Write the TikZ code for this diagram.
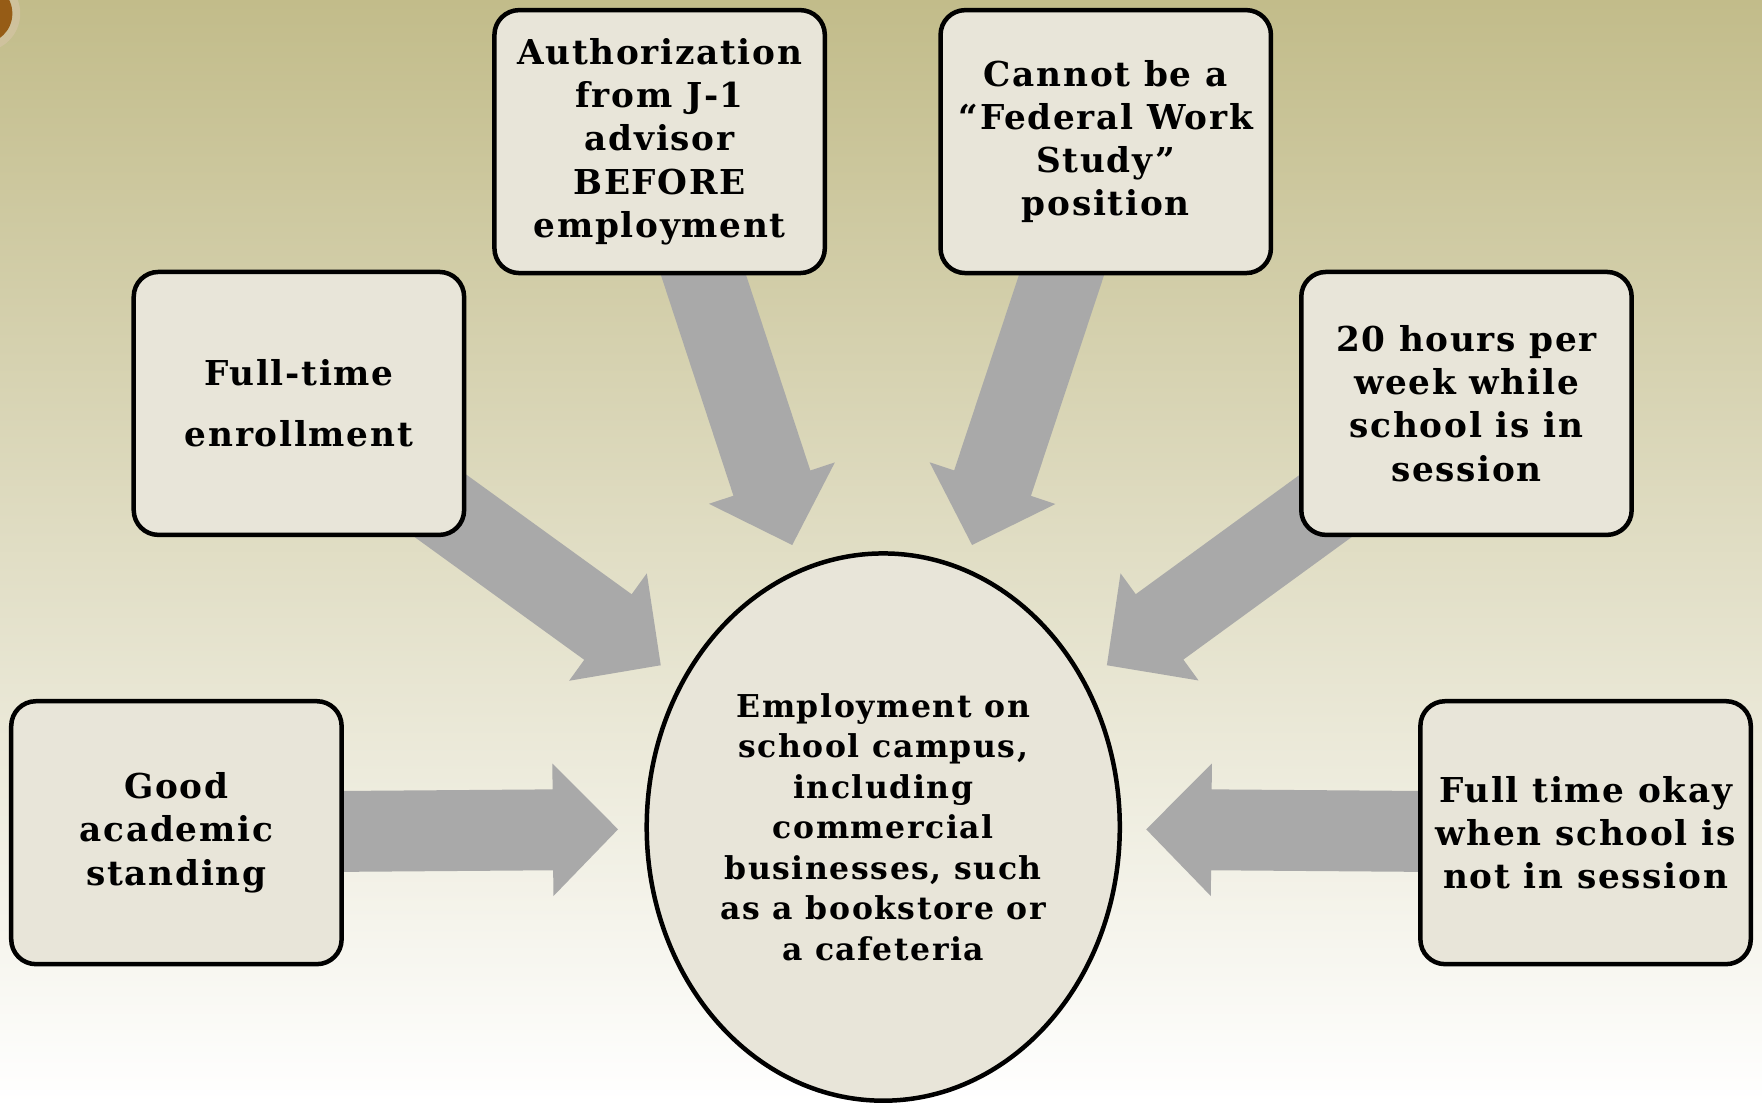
\documentclass[tikz,border=0pt]{standalone}
\usepackage{fontspec}
\setmainfont{DejaVu Serif}[LetterSpace=5]
\usetikzlibrary{calc,shapes.geometric}

\pgfdeclarelayer{backdrop}
\pgfdeclarelayer{arrows}
\pgfsetlayers{backdrop,arrows,main}

\definecolor{bgtop}{RGB}{194,188,138}
\definecolor{bgmid}{RGB}{228,225,203}
\definecolor{boxfill}{RGB}{232,229,217}
\definecolor{arrowgray}{RGB}{169,169,169}
\definecolor{knob}{RGB}{150,92,22}

\tikzset{
  card/.style={draw=black, line width=4pt, rounded corners=22pt, fill=boxfill,
    minimum width=294pt, minimum height=234pt, align=center, inner sep=0pt,
    font=\bfseries\fontsize{30.5}{38.5}\selectfont},
  hub/.style={ellipse, draw=black, line width=4pt, fill=boxfill,
    minimum width=421pt, minimum height=487pt, inner sep=0pt, align=center,
    font=\bfseries\fontsize{28}{36}\selectfont},
  fatarrow/.style={fill=arrowgray}
}

% broad block arrow from a node centre (#1) to a tip coordinate (#2)
\newcommand\fatarrow[2]{%
  \coordinate (#2-base) at ($(#2)!58pt!(#1.center)$);
  \fill[fatarrow] ($(#1.center)!36pt!90:(#2)$) -- ($(#2-base)!36pt!90:(#2)$)
    -- ($(#2-base)!59pt!90:(#2)$) -- (#2) -- ($(#2-base)!59pt!-90:(#2)$)
    -- ($(#2-base)!36pt!-90:(#2)$) -- ($(#1.center)!36pt!-90:(#2)$) -- cycle;}

\begin{document}
\begin{tikzpicture}[x=1pt, y=-1pt]
\useasboundingbox (0,0) rectangle (1568,982);

\begin{pgfonlayer}{backdrop}
  \shade[top color=bgtop, middle color=bgmid, bottom color=white]
    (0,0) rectangle (1568,982);
  \begin{scope}
    \clip (0,0) rectangle (1568,982);
    \fill[knob!35, opacity=0.5] (-16,12) circle (34pt);
    \fill[knob] (-16,12) circle (27pt);
  \end{scope}
\end{pgfonlayer}

% central ellipse
\node[hub] (hub) at (786,736) {Employment on\\school campus,\\including\\commercial\\businesses, such\\as a bookstore or\\a cafeteria};

% requirement boxes
\node[card] (good)  at (157,741)  {Good\\academic\\standing};
\node[card] (full)  at (266,359)  {Full-time\\[15.5pt]enrollment};
\node[card] (auth)  at (587,126)  {Authorization\\from J-1\\advisor\\BEFORE\\employment};
\node[card] (fws)   at (984,126)  {Cannot be a\\“Federal Work\\Study”\\position};
\node[card] (hours) at (1305,359) {20 hours per\\week while\\school is in\\session};
\node[card] (okay)  at (1411,741) {Full time okay\\when school is\\not in session};

% arrow tips near the ellipse
\coordinate (tipgood)  at (550,738);
\coordinate (tipfull)  at (588,592);
\coordinate (tipauth)  at (705,485);
\coordinate (tipfws)   at (865,485);
\coordinate (tiphours) at (985,592);
\coordinate (tipokay)  at (1020,738);

\begin{pgfonlayer}{arrows}
  \fatarrow{good}{tipgood}
  \fatarrow{full}{tipfull}
  \fatarrow{auth}{tipauth}
  \fatarrow{fws}{tipfws}
  \fatarrow{hours}{tiphours}
  \fatarrow{okay}{tipokay}
\end{pgfonlayer}
\end{tikzpicture}
\end{document}
